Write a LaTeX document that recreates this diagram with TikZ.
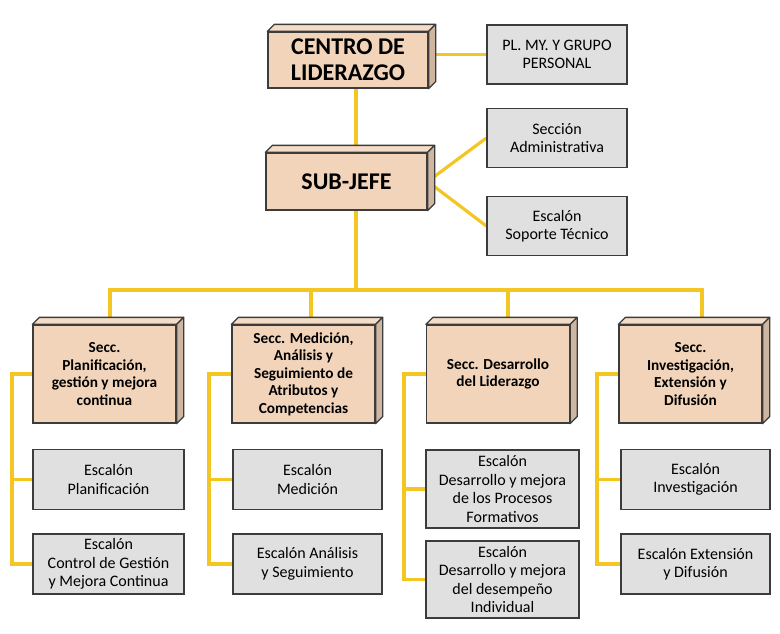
\documentclass[tikz,border=0pt]{standalone}
\usepackage{fontspec}
\setmainfont{Carlito}
\definecolor{peach}{RGB}{242,212,186}
\definecolor{peachtop}{RGB}{245,220,199}
\definecolor{peachside}{RGB}{206,182,160}
\definecolor{boxgray}{RGB}{224,224,224}
\definecolor{edge}{RGB}{60,60,60}
\definecolor{linegold}{RGB}{244,198,36}
\pgfdeclarelayer{back}
\pgfsetlayers{back,main}
\tikzset{
  jefebox/.style={draw=edge, line width=1.3pt, fill=peach, align=center, inner sep=0pt,
    font=\bfseries\fontsize{24}{26}\selectfont},
  seccbox/.style={jefebox, minimum width=143pt, minimum height=98pt,
    font=\bfseries\fontsize{15.3}{17.5}\selectfont},
  escbox/.style={draw=edge, line width=1.3pt, fill=boxgray, align=center, inner sep=0pt,
    minimum width=151pt, minimum height=60pt, font=\fontsize{16}{18.5}\selectfont},
  enlace/.style={draw=linegold, line width=3.2pt},
}
% top and side faces of a 3D box
\newcommand{\caja}[1]{%
  \filldraw[draw=edge, line width=1.3pt, fill=peachtop, line join=round]
    (#1.north west) -- ([shift={(7,-7)}]#1.north west) -- ([shift={(7,-7)}]#1.north east) -- (#1.north east) -- cycle;
  \filldraw[draw=edge, line width=1.3pt, fill=peachside, line join=round]
    (#1.north east) -- ([shift={(7,-7)}]#1.north east) -- ([shift={(7,-7)}]#1.south east) -- (#1.south east) -- cycle;
}
\begin{document}
\begin{tikzpicture}[x=1pt, y=-1pt]
    \useasboundingbox (0,0) rectangle (780,633);

    % Jefatura
    \node[jefebox, minimum width=160pt, minimum height=56pt] (centro) at (348,60) {CENTRO DE\\LIDERAZGO};
    \node[jefebox, minimum width=161pt, minimum height=57pt] (subjefe) at (346.5,181.5) {SUB-JEFE};
    \node[escbox, minimum width=140pt, minimum height=59pt] (plmy) at (557,54.5) {PL. MY. Y GRUPO\\PERSONAL};
    \node[escbox, minimum width=140pt, minimum height=59pt] (admin) at (557,138) {Sección\\Administrativa};
    \node[escbox, minimum width=140pt, minimum height=59pt] (soporte) at (557,226) {Escalón\\Soporte Técnico};

    % Secciones
    \node[seccbox] (s1) at (104.5,374) {Secc.\\Planificación,\\gestión y mejora\\continua};
    \node[seccbox] (s2) at (303.5,374) {Secc. Medición,\\Análisis y\\Seguimiento de\\Atributos y\\Competencias};
    \node[seccbox] (s3) at (498,374) {Secc. Desarrollo\\del Liderazgo};
    \node[seccbox] (s4) at (690.5,374) {Secc.\\Investigación,\\Extensión y\\Difusión};

    % Escalones
    \node[escbox] (e11) at (108.5,479.5) {Escalón\\Planificación};
    \node[escbox] (e12) at (108.5,564) {Escalón\\Control de Gestión\\y Mejora Continua};
    \node[escbox, minimum width=149pt] (e21) at (307.5,479.5) {Escalón\\Medición};
    \node[escbox, minimum width=149pt] (e22) at (307.5,564) {Escalón Análisis\\y Seguimiento};
    \node[escbox, minimum width=153pt, minimum height=78pt] (e31) at (502.5,489) {Escalón\\Desarrollo y mejora\\de los Procesos\\Formativos};
    \node[escbox, minimum width=153pt, minimum height=77pt] (e32) at (502.5,579.5) {Escalón\\Desarrollo y mejora\\del desempeño\\Individual};
    \node[escbox, minimum width=149pt] (e41) at (695.5,479.5) {Escalón\\Investigación};
    \node[escbox, minimum width=149pt] (e42) at (695.5,564) {Escalón Extensión\\y Difusión};

    \foreach \n in {centro,subjefe,s1,s2,s3,s4} {\caja{\n}}

    % Enlaces
    \coordinate (tronco) at (356,290);
    \coordinate (b1) at (110,290);
    \coordinate (b2) at (311,290);
    \coordinate (b3) at (508,290);
    \coordinate (b4) at (702,290);
    \foreach \i/\x in {1/12,2/209,3/404,4/597} {\coordinate (l\i) at (\x,0);}

    \begin{pgfonlayer}{back}
        \draw[enlace] (tronco |- centro.south) -- (tronco |- subjefe.north);
        \draw[enlace] (plmy.west) -- (plmy.west -| centro.east);
        \draw[enlace] (admin.west) -- (subjefe.east) -- (soporte.west);
        \draw[enlace] (tronco |- subjefe.south) -- (tronco);
        \draw[enlace] (b1 |- s1.north) -- (b1) -- (b4) -- (b4 |- s4.north);
        \draw[enlace] (b2) -- (b2 |- s2.north);
        \draw[enlace] (b3) -- (b3 |- s3.north);
        \foreach \i in {1,...,4} {
            \draw[enlace] (s\i.west) -| (l\i |- e\i2.west) -- (e\i2.west);
            \draw[enlace] (l\i |- e\i1.west) -- (e\i1.west);
        }
    \end{pgfonlayer}
\end{tikzpicture}
\end{document}
